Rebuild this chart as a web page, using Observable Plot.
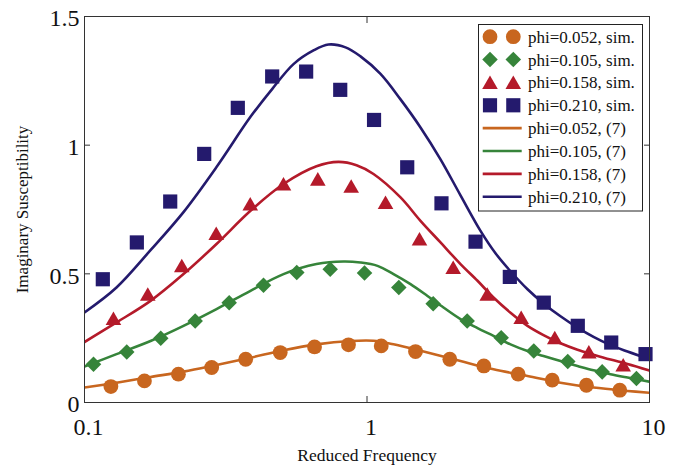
<!DOCTYPE html>
<html><head><meta charset="utf-8">
<script src="https://cdn.jsdelivr.net/npm/d3@7"></script>
<script src="https://cdn.jsdelivr.net/npm/@observablehq/plot@0.6"></script>
<style>body{margin:0;background:#fff} svg{display:block}</style>
</head><body><div id="chart"></div>
<script>
// ---- data ----
const seriesNames = ["phi=0.052", "phi=0.105", "phi=0.158", "phi=0.210"];
const seriesColors = ["#C8661F", "#36843A", "#B41A2A", "#241A6D"];
const xTicks = [0.1, 1, 10];
const xTickLabels = ["0.1", "1", "10"];
const yTicks = [0, 0.5, 1, 1.5];
const yTickLabels = ["0", "0.5", "1", "1.5"];

// simulation points
const circleFreq = [0.124, 0.163, 0.215, 0.282, 0.372, 0.493, 0.652, 0.860, 1.123, 1.485, 1.964, 2.592, 3.429, 4.525, 5.98, 7.85];
const circleVal  = [0.062, 0.084, 0.110, 0.136, 0.168, 0.194, 0.216, 0.224, 0.220, 0.198, 0.168, 0.142, 0.110, 0.087, 0.067, 0.048];
const diamondFreq = [0.1076, 0.1411, 0.1862, 0.2465, 0.3252, 0.4301, 0.5642, 0.7408, 0.980, 1.296, 1.715, 2.263, 2.985, 3.894, 5.137, 6.80, 8.99];
const diamondVal  = [0.149, 0.196, 0.250, 0.317, 0.388, 0.456, 0.505, 0.518, 0.503, 0.447, 0.384, 0.317, 0.252, 0.200, 0.159, 0.119, 0.093];
const triangleFreq = [0.1266, 0.1675, 0.2210, 0.2926, 0.3861, 0.5063, 0.6697, 0.879, 1.163, 1.534, 2.019, 2.665, 3.514, 4.62, 6.10, 8.07];
const triangleVal  = [0.326, 0.421, 0.531, 0.657, 0.771, 0.849, 0.868, 0.840, 0.777, 0.635, 0.525, 0.421, 0.330, 0.252, 0.196, 0.146];
const squareFreq = [0.1161, 0.1532, 0.2011, 0.2653, 0.3489, 0.4617, 0.609, 0.804, 1.059, 1.388, 1.835, 2.422, 3.203, 4.225, 5.574, 7.32, 9.68];
const squareVal  = [0.479, 0.622, 0.781, 0.966, 1.145, 1.267, 1.286, 1.215, 1.098, 0.914, 0.774, 0.625, 0.488, 0.388, 0.298, 0.233, 0.188];

// model curves, eq. (7)
const orangeFreq = [0.1, 0.1298, 0.1713, 0.2241, 0.2933, 0.3869, 0.5063, 0.6625, 0.8744, 1.0544, 1.2414, 1.6374, 2.1429, 2.8039, 3.7004, 4.8417, 6.3356, 8.3581, 10];
const orangeVal  = [0.058, 0.077, 0.099, 0.120, 0.146, 0.174, 0.203, 0.226, 0.239, 0.240, 0.226, 0.194, 0.161, 0.129, 0.103, 0.077, 0.058, 0.045, 0.038];
const greenFreq = [0.1, 0.1298, 0.1713, 0.2241, 0.2933, 0.3869, 0.5063, 0.6625, 0.8258, 0.9484, 1.0893, 1.2414, 1.4256, 1.6374, 1.8655, 2.1429, 2.4615, 2.8039, 3.2211, 3.7004, 4.2150, 4.8417, 5.5616, 6.3356, 7.2778, 8.3581, 10];
const greenVal  = [0.140, 0.188, 0.239, 0.298, 0.363, 0.434, 0.499, 0.538, 0.548, 0.544, 0.531, 0.499, 0.460, 0.414, 0.369, 0.324, 0.289, 0.259, 0.226, 0.200, 0.181, 0.161, 0.142, 0.125, 0.110, 0.097, 0.081];
const redFreq = [0.1, 0.1298, 0.1713, 0.2241, 0.2933, 0.3869, 0.5063, 0.6625, 0.7924, 0.9181, 1.0544, 1.3143, 1.5465, 1.8205, 2.1429, 2.4615, 2.8039, 3.2211, 3.7004, 4.2150, 4.8417, 5.5616, 6.3356, 7.2778, 8.3581, 10];
const redVal  = [0.235, 0.311, 0.395, 0.499, 0.616, 0.745, 0.849, 0.918, 0.935, 0.922, 0.888, 0.797, 0.706, 0.622, 0.538, 0.473, 0.408, 0.349, 0.298, 0.262, 0.230, 0.205, 0.186, 0.167, 0.150, 0.124];
const blueFreq = [0.1, 0.1298, 0.1713, 0.2241, 0.2933, 0.3869, 0.4630, 0.5493, 0.6465, 0.7306, 0.8394, 0.9484, 1.1163, 1.3143, 1.5465, 1.8205, 2.1429, 2.5224, 2.8502, 3.2211, 3.7004, 4.2150, 4.8417, 5.5616, 6.3356, 7.2778, 8.3581, 10];
const blueVal  = [0.350, 0.447, 0.592, 0.740, 0.915, 1.110, 1.220, 1.315, 1.368, 1.391, 1.380, 1.345, 1.277, 1.178, 1.069, 0.945, 0.805, 0.667, 0.580, 0.510, 0.440, 0.385, 0.335, 0.291, 0.255, 0.223, 0.198, 0.168];

// ---- build ----
const zip = (xs, ys) => xs.map((x, i) => ({x, y: ys[i]}));
const curves = [zip(orangeFreq, orangeVal), zip(greenFreq, greenVal), zip(redFreq, redVal), zip(blueFreq, blueVal)];
const sims = [zip(circleFreq, circleVal), zip(diamondFreq, diamondVal), zip(triangleFreq, triangleVal), zip(squareFreq, squareVal)];
const symbols = ["circle", "diamond2", "triangle", "square"];
const symbolR = [7.4, 7.0, 5.8, 8.0];
const symbolDy = [0, 0, 2, 0];
const font = "'Liberation Serif', 'Times New Roman', serif";
const xTickData = xTicks.map((v, i) => ({v, label: xTickLabels[i]}));

const plot = Plot.plot({
  width: 686, height: 467,
  marginLeft: 84, marginRight: 37, marginTop: 16, marginBottom: 65,
  style: {fontFamily: font, background: "#fff", color: "#111"},
  x: {type: "log", domain: [0.1, 10]},
  y: {domain: [0, 1.5]},
  marks: [
    Plot.text(xTickData, {x: "v", text: "label", frameAnchor: "bottom", lineAnchor: "top", dy: 15, dx: 4, fontSize: 24}),
    Plot.axisX({ticks: [1], tickSize: -6, tickFormat: () => "", label: null, stroke: "#333"}),
    Plot.axisX({anchor: "top", ticks: [1], tickSize: -6, tickFormat: () => "", label: null, stroke: "#333"}),
    Plot.axisY({ticks: yTicks, tickFormat: (d, i) => yTickLabels[i], tickSize: 0, tickPadding: 5, fontSize: 24, dy: 2, label: null}),
    Plot.axisY({ticks: [0.5, 1], tickSize: -6, tickFormat: () => "", label: null, stroke: "#333"}),
    Plot.axisY({anchor: "right", ticks: [0.5, 1], tickSize: -6, tickFormat: () => "", label: null, stroke: "#333"}),
    Plot.text(["Reduced Frequency"], {frameAnchor: "bottom", lineAnchor: "bottom", dy: 58, fontSize: 17.5}),
    Plot.text(["Imaginary Susceptibility"], {frameAnchor: "left", textAnchor: "middle", rotate: -90, dx: -62, fontSize: 17}),
    ...curves.map((c, i) => Plot.line(c, {x: "x", y: "y", stroke: seriesColors[i], strokeWidth: 2.6, curve: "catmull-rom", clip: true})),
    ...sims.map((s, i) => Plot.dot(s, {x: "x", y: "y", symbol: symbols[i], r: symbolR[i], fill: seriesColors[i], stroke: "none", dy: symbolDy[i]})),
    Plot.frame({stroke: "#333", strokeWidth: 1})
  ]
});

// legend inside the plot
const svg = d3.select(plot);
const lg = svg.append("g").attr("font-family", font).attr("font-size", 17).attr("fill", "#111").attr("text-anchor", "start");
lg.append("rect").attr("x", 478.5).attr("y", 24.5).attr("width", 164).attr("height", 186.5)
  .attr("fill", "#fff").attr("stroke", "#222").attr("stroke-width", 1);
const d3sym = {circle: d3.symbolCircle, diamond2: d3.symbolDiamond2, triangle: d3.symbolTriangle, square: d3.symbolSquare};
const rowY = i => 36.7 + i * 22.86;
seriesNames.forEach((name, i) => {
  const y = rowY(i);
  const path = d3.symbol(d3sym[symbols[i]], Math.PI * symbolR[i] ** 2)();
  [490, 513.3].forEach(x => lg.append("path").attr("d", path)
    .attr("transform", `translate(${x},${y + symbolDy[i]})`).attr("fill", seriesColors[i]));
  lg.append("text").attr("x", 528).attr("y", y).attr("dy", "0.35em").text(`${name}, sim.`);
});
seriesNames.forEach((name, i) => {
  const y = rowY(i + 4);
  lg.append("line").attr("x1", 482.7).attr("x2", 521.7).attr("y1", y).attr("y2", y)
    .attr("stroke", seriesColors[i]).attr("stroke-width", 2.6);
  lg.append("text").attr("x", 528).attr("y", y).attr("dy", "0.35em").text(`${name}, (7)`);
});

document.getElementById("chart").append(plot);
</script>
</body></html>
